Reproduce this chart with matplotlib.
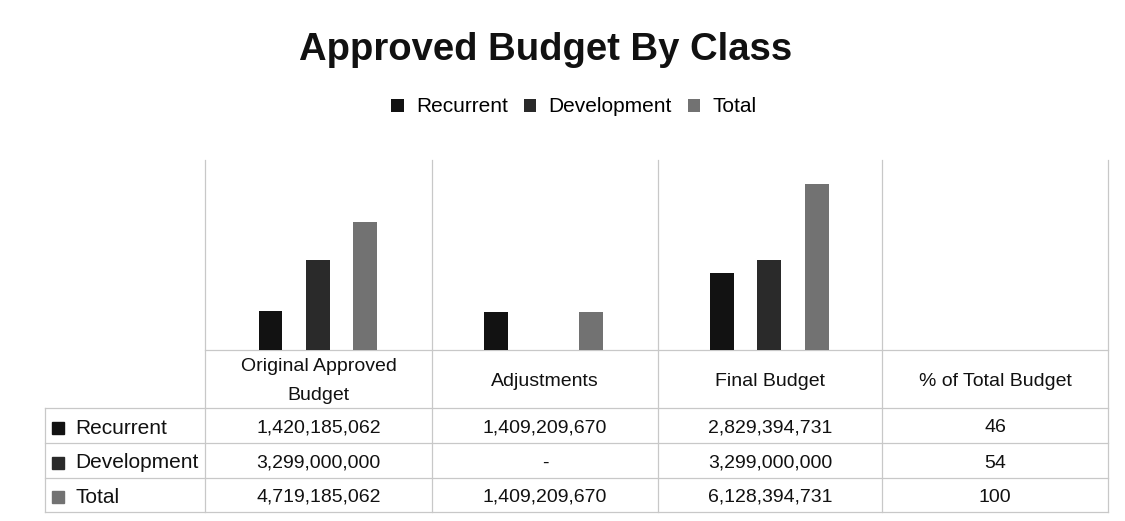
import matplotlib
matplotlib.use("Agg")
import matplotlib.pyplot as plt
from matplotlib.patches import Rectangle
import numpy as np

# ---- data ----
categories = ["Original Approved\nBudget", "Adjustments", "Final Budget", "% of Total Budget"]
series = ["Recurrent", "Development", "Total"]
recurrent = [1420185062, 1409209670, 2829394731, 46]
development = [3299000000, 0, 3299000000, 54]
total = [4719185062, 1409209670, 6128394731, 100]
title = "Approved Budget By Class"

colors = ["#121212", "#2a2a2a", "#727272"]
values = [recurrent, development, total]

plt.rcParams['font.family'] = ['Liberation Sans', 'DejaVu Sans']

W, H = 1125, 521
fig = plt.figure(figsize=(W / 100, H / 100), dpi=100)

# geometry in pixels
plot_left, plot_right = 205, 1108
plot_top, plot_base = 160, 350
row_lines = [350, 408, 443, 478, 512]
col_lines = [205, 432, 658, 882, 1108]
table_left = 45
grid_c = "#c8c8c8"

ax = fig.add_axes([plot_left / W, 1 - plot_base / H,
                   (plot_right - plot_left) / W, (plot_base - plot_top) / H])
ax.set_facecolor("none")
x = np.arange(len(categories))
offs = [-0.21, 0.0, 0.21]
bw = 0.106
for i, (name, vals) in enumerate(zip(series, values)):
    ax.bar(x + offs[i], vals, width=bw, color=colors[i], label=name, zorder=3)
ax.set_xlim(-0.5, len(categories) - 0.5)
ax.set_ylim(0, 7.0e9)
ax.set_xticks([])
ax.set_yticks([])
for s in ax.spines.values():
    s.set_visible(False)

# overlay for table and grid
ov = fig.add_axes([0, 0, 1, 1], zorder=-1)
ov.set_xlim(0, W)
ov.set_ylim(H, 0)
ov.axis("off")

# vertical lines
for i, cx in enumerate(col_lines):
    ov.plot([cx, cx], [plot_top, row_lines[-1]], color=grid_c, lw=0.9)
ov.plot([table_left, table_left], [row_lines[1], row_lines[-1]], color=grid_c, lw=0.9)
# horizontal lines
ov.plot([plot_left, plot_right], [row_lines[0], row_lines[0]], color=grid_c, lw=0.9)
for ry in row_lines[1:]:
    ov.plot([table_left, plot_right], [ry, ry], color=grid_c, lw=0.9)

fs = 14
# header
for j, cat in enumerate(categories):
    cx = (col_lines[j] + col_lines[j + 1]) / 2
    ov.text(cx, (row_lines[0] + row_lines[1]) / 2 + 2, cat, ha="center", va="center",
            fontsize=fs, linespacing=1.85, color="#111111")

def fmt(v, j):
    if j == len(categories) - 1:
        return f"{v}"
    return "-" if v == 0 else f"{v:,}"

for r, (name, vals) in enumerate(zip(series, values)):
    cy = (row_lines[r + 1] + row_lines[r + 2]) / 2 + 2.5
    ov.add_patch(Rectangle((52, cy - 6.5), 12, 12, color=colors[r]))
    ov.text(75, cy, name, ha="left", va="center", fontsize=15, color="#111111")
    for j, v in enumerate(vals):
        cx = (col_lines[j] + col_lines[j + 1]) / 2
        ov.text(cx, cy, fmt(v, j), ha="center", va="center", fontsize=fs, color="#111111")

# title and legend
fig.text(546 / W, 1 - 50 / H, title, ha="center", va="center",
         fontsize=27.5, fontweight="bold", color="#111111")
fig.legend(loc="center", bbox_to_anchor=(574 / W, 1 - 107 / H), ncol=3,
           frameon=False, fontsize=15, handlelength=0.6, handleheight=0.6,
           handletextpad=0.6, columnspacing=0.75)

fig.savefig("out.png", dpi=100)
